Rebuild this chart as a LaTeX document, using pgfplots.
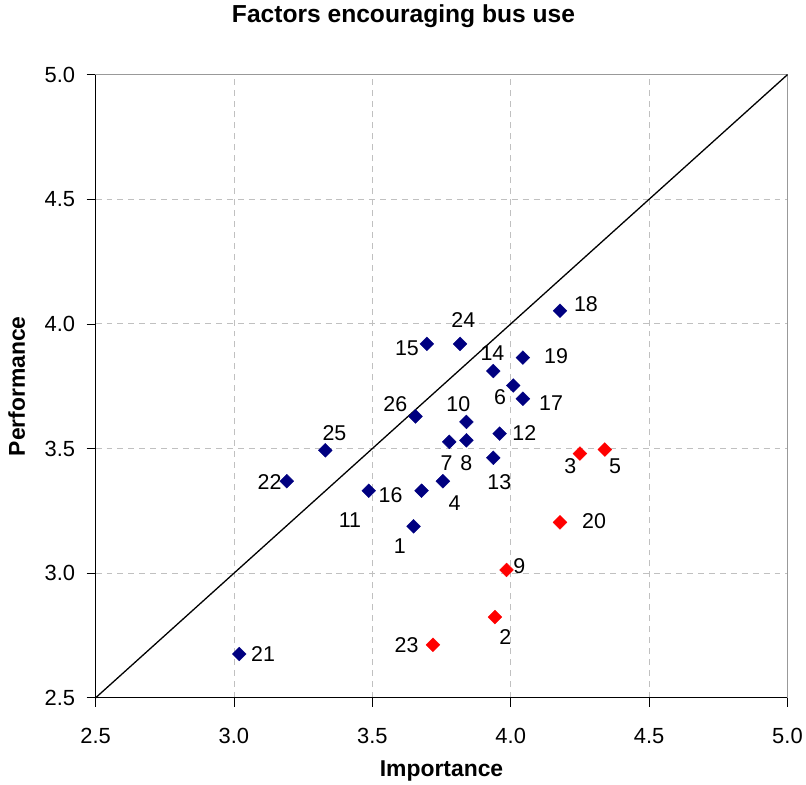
\documentclass[border=0pt]{standalone}
\usepackage{pgfplots}
\pgfplotsset{compat=1.18}
\usepackage{fontspec}
\setmainfont{Liberation Sans}
\definecolor{navyblue}{RGB}{0,0,128}
\definecolor{gridgray}{RGB}{192,192,192}
\begin{document}
\begin{tikzpicture}
\begin{axis}[
  width=695pt, height=626pt, scale only axis,
  xmin=2.5, xmax=5, ymin=2.5, ymax=5,
  xtick={2.5,3,3.5,4,4.5,5}, ytick={2.5,3,3.5,4,4.5,5},
  xtick pos=bottom, ytick pos=left,
  tick align=outside, major tick length=9pt,
  tick style={black, line width=0.8pt},
  /pgf/number format/assume math mode=true,
  xticklabel style={/pgf/number format/.cd, fixed, fixed zerofill, precision=1, /tikz/.cd, font=\fontsize{22}{25}\selectfont, yshift=-18pt},
  yticklabel style={/pgf/number format/.cd, fixed, fixed zerofill, precision=1, /tikz/.cd, font=\fontsize{22}{25}\selectfont, xshift=-8pt},
  grid=major,
  major grid style={gridgray, line width=0.9pt, dash pattern=on 6pt off 5pt},
  axis line style={gray!80, line width=0.9pt},
  title={Factors encouraging bus use},
  title style={font=\fontsize{24.7}{28}\selectfont\bfseries, at={(axis description cs:0.445,1)}, anchor=base, yshift=46pt},
  xlabel={Importance},
  xlabel style={font=\fontsize{23}{27}\selectfont\bfseries, at={(axis description cs:0.5,0)}, anchor=base, yshift=-79pt},
  ylabel={Performance},
  ylabel style={font=\fontsize{23}{27}\selectfont\bfseries, at={(axis description cs:-0.1022,0.5)}, anchor=base, rotate=0},
  clip=false,
]
% diagonal
\addplot[black, line width=1.3pt, mark=none] coordinates {(2.5,2.5) (5,5)};
% blue points
\addplot[only marks, mark=square*, mark size=4.9pt, mark options={rotate=45, fill=navyblue, draw=navyblue}] coordinates {
(3.019,2.676) (3.191,3.369) (3.330,3.493) (3.487,3.331) (3.678,3.331)
(3.656,3.629) (3.697,3.920) (3.649,3.188) (3.755,3.369) (3.778,3.527)
(3.817,3.920) (3.840,3.607) (3.840,3.533) (3.937,3.811) (3.937,3.463)
(3.960,3.560) (4.009,3.753) (4.044,3.865) (4.044,3.700) (4.178,4.053)
};
% red points
\addplot[only marks, mark=square*, mark size=4.9pt, mark options={rotate=45, fill=red, draw=red}] coordinates {
(4.250,3.480) (4.340,3.496) (4.178,3.204) (3.985,3.013) (3.943,2.824) (3.719,2.713)
};
% point labels
\begin{scope}[every node/.style={font=\fontsize{21.5}{24}\selectfont, inner sep=0pt, anchor=center}]
\node at (axis cs:3.105,2.676) {21};
\node at (axis cs:3.129,3.364) {22};
\node at (axis cs:3.363,3.560) {25};
\node at (axis cs:3.583,3.680) {26};
\node at (axis cs:3.625,3.903) {15};
\node at (axis cs:3.566,3.312) {16};
\node at (axis cs:3.419,3.212) {11};
\node at (axis cs:3.599,3.108) {1};
\node at (axis cs:3.797,3.280) {4};
\node at (axis cs:3.768,3.440) {7};
\node at (axis cs:3.840,3.440) {8};
\node at (axis cs:3.811,3.680) {10};
\node at (axis cs:3.829,4.016) {24};
\node at (axis cs:3.934,3.884) {14};
\node at (axis cs:3.962,3.708) {6};
\node at (axis cs:4.146,3.684) {17};
\node at (axis cs:4.164,3.872) {19};
\node at (axis cs:4.272,4.080) {18};
\node at (axis cs:4.049,3.564) {12};
\node at (axis cs:3.959,3.364) {13};
\node at (axis cs:4.215,3.428) {3};
\node at (axis cs:4.377,3.428) {5};
\node at (axis cs:4.301,3.208) {20};
\node at (axis cs:4.031,3.028) {9};
\node at (axis cs:3.981,2.744) {2};
\node at (axis cs:3.624,2.712) {23};
\end{scope}
\draw[black, line width=0.9pt] (rel axis cs:0,1) -- (rel axis cs:0,0) -- (rel axis cs:1,0);
% page extent as in the reference
\path (rel axis cs:0,0) ++(-96pt,-86pt);
\path (rel axis cs:1,1) ++(15pt,75pt);
\end{axis}
\end{tikzpicture}
\end{document}
